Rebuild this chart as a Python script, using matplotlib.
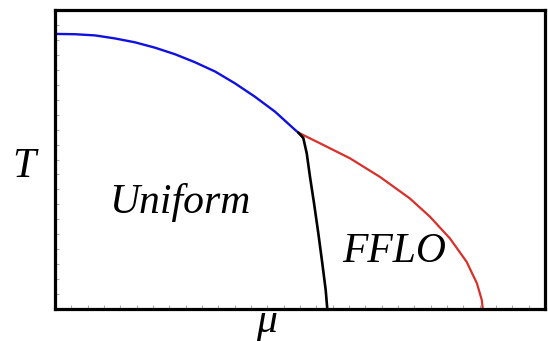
'''
Diagrama de fases T-mu con la fase uniforme y la fase FFLO.
'''
# ---Imports---
import numpy as np
import matplotlib
matplotlib.use('Agg')
import matplotlib.pyplot as plt

# ---Datos (unidades arbitrarias)---
# Linea de transicion normal-uniforme (azul)
mu_azul = [0.0, 0.041, 0.082, 0.122, 0.163, 0.204, 0.245, 0.286, 0.327,
	0.367, 0.408, 0.449, 0.490, 0.4965]
T_azul = [0.920, 0.919, 0.915, 0.905, 0.892, 0.874, 0.852, 0.825, 0.794,
	0.755, 0.710, 0.660, 0.599, 0.590]

# Linea de transicion normal-FFLO (roja)
mu_roja = [0.4965, 0.541, 0.602, 0.663, 0.724, 0.765, 0.806, 0.840, 0.861,
	0.871, 0.873]
T_roja = [0.590, 0.554, 0.504, 0.442, 0.370, 0.309, 0.236, 0.158, 0.086,
	0.030, 0.0]

# Linea uniforme-FFLO (negra)
mu_negra = [0.4965, 0.5067, 0.5137, 0.5204, 0.5286, 0.5374, 0.5455, 0.5524, 0.5557]
T_negra = [0.590, 0.572, 0.521, 0.442, 0.354, 0.253, 0.153, 0.064, 0.0]

# Etiquetas
fases = ['Uniform', 'FFLO']
pos_fases = [(0.255, 0.321), (0.692, 0.157)]

# ---Figura---
serif = ['Liberation Serif', 'DejaVu Serif']
fig = plt.figure(figsize=(5.48, 3.41), dpi=100)
ax = fig.add_axes([55/548, 32/341, 490/548, 299/341])

# Curvas de transicion
ax.plot(mu_azul, T_azul, color='#1010e0', lw=1.7, solid_capstyle='round', solid_joinstyle='round')
ax.plot(mu_roja, T_roja, color='#d8302a', lw=1.6, solid_capstyle='round', solid_joinstyle='round')
ax.plot(mu_negra, T_negra, color='black', lw=1.9, solid_capstyle='round', solid_joinstyle='round')

ax.set_xlim(0, 1)
ax.set_ylim(0, 1)

# Nombres de las fases
for nombre, (x, y) in zip(fases, pos_fases):
	ax.text(x, y, nombre, ha='center', va='baseline', family=serif,
		style='italic', size=30)

# Ejes: marcas pequenas hacia dentro, sin numeros
ax.set_xticks(np.linspace(0, 1, 31))
ax.set_yticks(np.linspace(0, 1, 21))
ax.tick_params(direction='in', length=3, width=0.8, color='#aaaaaa',
	labelbottom=False, labelleft=False)
for s in ax.spines.values():
	s.set_linewidth(2.3)

# Labels de los ejes
ax.set_xlabel('μ', family=serif, style='italic', size=30, va='baseline')
ax.xaxis.set_label_coords(0.431, -0.077)
ax.set_ylabel('T', family=serif, style='italic', size=30,
	rotation=0, ha='center', va='baseline')
ax.yaxis.set_label_coords(-0.063, 0.441)

fig.savefig('out.png', dpi=100)
